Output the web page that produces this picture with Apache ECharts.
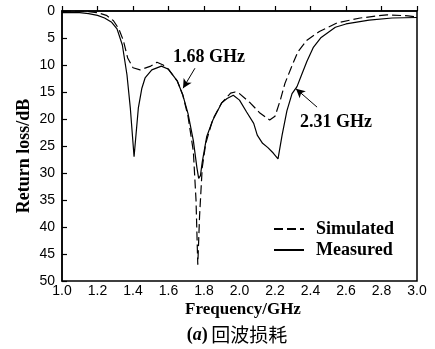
<!DOCTYPE html>
<html><head><meta charset="utf-8">
<script src="https://cdn.jsdelivr.net/npm/echarts@6/dist/echarts.min.js"></script>
<style>html,body{margin:0;padding:0;background:#fff}#c{width:435px;height:349px}</style>
</head><body><div id="c"></div>
<script>
const xTicks = [1.0,1.2,1.4,1.6,1.8,2.0,2.2,2.4,2.6,2.8,3.0];
const yTicks = [0,5,10,15,20,25,30,35,40,45,50];
const simFreq = [1.0,1.1,1.15,1.2,1.25,1.29,1.32,1.345,1.37,1.4,1.44,1.5,1.535,1.57,1.6,1.65,1.68,1.71,1.74,1.755,1.765,1.775,1.79,1.81,1.85,1.9,1.95,1.975,2.0,2.06,2.115,2.17,2.2,2.23,2.256,2.3,2.33,2.38,2.45,2.55,2.68,2.83,2.95,3.0];
const simLoss = [0,0,0.1,0.3,0.8,1.8,3.3,5.4,8.7,10.5,10.9,10.2,9.5,10,10.8,13,15.5,19.5,26,35,47,38,29,24.5,20,17,15.2,15,15.3,17,18.9,20.2,19.5,16.5,13.4,9.8,7.5,5.4,3.8,2.2,1.3,0.7,0.9,1.1];
const measFreq = [1.0,1.1,1.15,1.2,1.24,1.28,1.31,1.34,1.366,1.385,1.406,1.43,1.45,1.468,1.506,1.56,1.6,1.65,1.68,1.71,1.74,1.76,1.77,1.78,1.79,1.815,1.85,1.9,1.93,1.965,2.0,2.04,2.08,2.1,2.13,2.16,2.19,2.217,2.24,2.267,2.296,2.324,2.35,2.38,2.415,2.46,2.54,2.6,2.73,2.86,3.0];
const measLoss = [0.3,0.3,0.5,0.8,1.3,2.1,3.3,6.3,11.8,18,27,18,14.3,12.4,10.9,10.2,10.8,13,15.5,19,24,29,31,30.5,28,23.3,20.2,17,16.2,15.6,16.5,18.7,20.8,23,24.5,25.3,26.3,27.4,23,18.5,15.3,14,11.8,9.3,6.8,4.9,3.0,2.4,1.7,1.3,1.2];
const seriesNames = ['Simulated','Measured'];
const arrow1 = [[1.749,10.6],[1.682,14.3]];
const arrow2 = [[2.437,17.8],[2.318,14.4]];
const ann1 = '1.68 GHz', ann2 = '2.31 GHz';

const zip = (a,b)=>a.map((v,i)=>[v,b[i]]);
const serif = '"Liberation Serif", "DejaVu Serif", serif';
const sans = '"Liberation Sans", Arial, sans-serif';
const chart = echarts.init(document.getElementById('c'));
const arrowLine = (pts)=>({
  silent:true, symbol:['none','arrow'], symbolSize:[7,9],
  lineStyle:{color:'#000',type:'solid',width:1},
  label:{show:false},
  data:[[{coord:pts[0]},{coord:pts[1]}]]
});
chart.setOption({
  animation:false,
  grid:{left:62,right:18,top:11,bottom:68,show:true,borderColor:'#000',borderWidth:1.5},
  xAxis:{type:'value',min:1,max:3,interval:0.2,
    axisLine:{show:true,lineStyle:{color:'#000',width:1.5}},
    axisTick:{show:true,inside:true,length:5,lineStyle:{color:'#000',width:1.2}},
    axisLabel:{color:'#000',fontFamily:sans,fontSize:14,margin:3,formatter:v=>v.toFixed(1)},
    splitLine:{show:false}},
  yAxis:{type:'value',min:0,max:50,interval:5,inverse:true,
    axisLine:{show:true,lineStyle:{color:'#000',width:1.5}},
    axisTick:{show:true,inside:true,length:5,lineStyle:{color:'#000',width:1.2}},
    axisLabel:{color:'#000',fontFamily:sans,fontSize:14,margin:7},
    splitLine:{show:false}},
  legend:{left:273,top:220,padding:0,orient:'vertical',itemWidth:30,itemHeight:14,itemGap:3,
    itemStyle:{opacity:0},
    textStyle:{fontFamily:serif,fontSize:18,fontWeight:'bold',color:'#000',lineHeight:18,padding:[0,0,0,7]},
    data:seriesNames},
  series:[
    {name:seriesNames[0],type:'line',symbol:'none',data:zip(simFreq,simLoss),
     lineStyle:{color:'#000',width:1.2,type:[9,4]},itemStyle:{color:'#000'},
     markLine:arrowLine(arrow1)},
    {name:seriesNames[1],type:'line',symbol:'none',data:zip(measFreq,measLoss),
     lineStyle:{color:'#000',width:1.2,type:'solid'},itemStyle:{color:'#000'},
     markLine:arrowLine(arrow2)}
  ],
  graphic:[
    {type:'text',left:173,top:48,style:{text:ann1,font:'bold 18px '+serif,fill:'#000'}},
    {type:'text',left:300,top:113,style:{text:ann2,font:'bold 18px '+serif,fill:'#000'}},
    {type:'text',x:24,y:156,rotation:Math.PI/2,style:{text:'Return loss/dB',font:'bold 18px '+serif,fill:'#000',align:'center',verticalAlign:'middle'}},
    {type:'text',x:243,y:310,style:{text:'Frequency/GHz',font:'bold 17px '+serif,fill:'#000',align:'center',verticalAlign:'middle'}},
    {type:'text',x:237,y:335,style:{align:'center',verticalAlign:'middle',
      rich:{p:{font:'bold 18px '+serif,fill:'#000'},a:{font:'italic bold 18px '+serif,fill:'#000'},c:{font:'19px "Noto Sans CJK SC"',fill:'#000'}},
      text:'{p|(}{a|a}{p|)} {c|回波损耗}'}}
  ]
});
</script></body></html>
